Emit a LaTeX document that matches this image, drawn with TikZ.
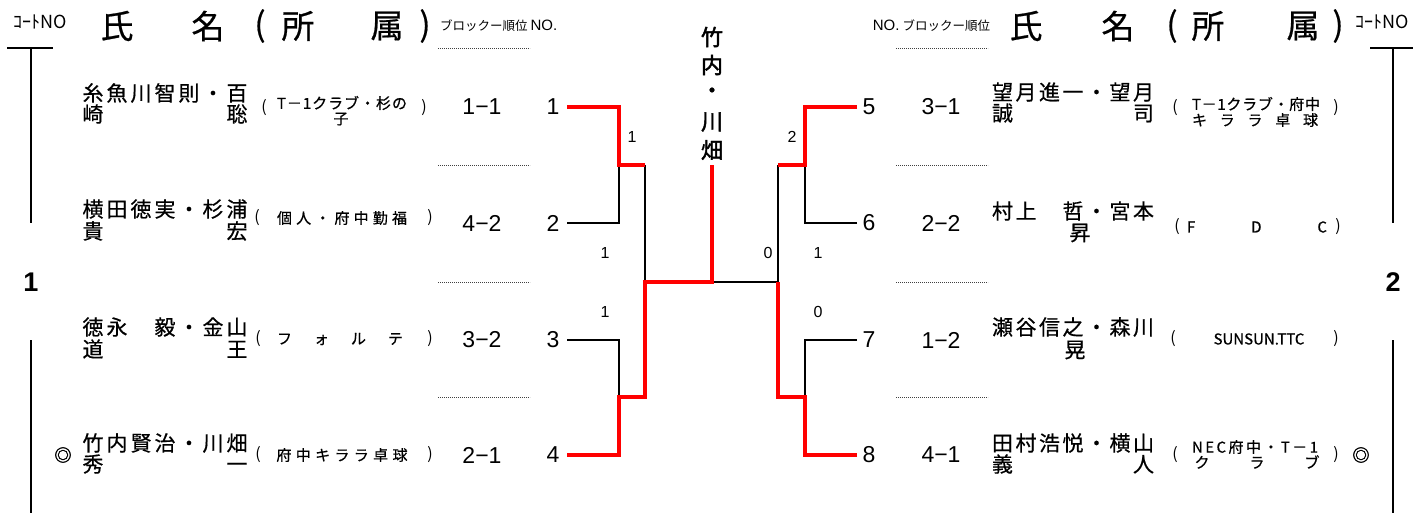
\documentclass[tikz,border=0pt]{standalone}
\usepackage{fontspec}
\setmainfont{Noto Sans CJK JP}
\newfontfamily\jpb{Noto Sans CJK JP}[FakeBold=2]
\newfontfamily\jpm{Noto Sans CJK JP}[FakeBold=0.6]
\newfontfamily\lat{Liberation Sans}
\ExplSyntaxOn
\NewDocumentCommand\Spread{mm}{\hbox~to~#1{\tl_map_inline:nn{#2}{##1\hfil}\unskip}}
\ExplSyntaxOff
\begin{document}
\begin{tikzpicture}[x=1pt,y=-1pt,
  every node/.style={inner sep=0pt, outer sep=0pt},
  big/.style={font=\jpm\fontsize{33}{33}\selectfont},
  cno/.style={font=\fontsize{18}{18}\selectfont},
  nm/.style={font=\jpm\fontsize{21}{21}\selectfont},
  af/.style={font=\jpm\fontsize{15}{15}\selectfont},
  par/.style={font=\fontsize{16}{16}\selectfont},
  rk/.style={font=\lat\fontsize{23}{23}\selectfont},
  sc/.style={font=\lat\fontsize{16}{16}\selectfont},
  court/.style={font=\lat\bfseries\fontsize{27}{27}\selectfont},
  champ/.style={font=\jpb\fontsize{22}{22}\selectfont},
  mark2/.style={font=\jpb\fontsize{17}{17}\selectfont},
  lose/.style={draw=black, line width=1.2pt},
  win/.style={draw=red, line width=4.5pt, line join=miter},
  dots/.style={draw=black!75, line width=0.8pt, dash pattern=on 0.8pt off 1.2pt},
  rule/.style={draw=black, line width=1.2pt}
]
\useasboundingbox (0,0) rectangle (1413,513);

% ---------- headers ----------
\node[cno] (cnoL) at (40,22) {ｺｰﾄNO};
\node[cno] (cnoR) at (1382,22) {ｺｰﾄNO};
\node[big] (hL1) at (117,26) {氏};
\node[big] (hL2) at (208,26) {名};
\node[big] (hL3) at (260,26) {(};
\node[big] (hL4) at (298,26) {所};
\node[big] (hL5) at (387,26) {属};
\node[big] (hL6) at (425,26) {)};
\node[big] (hR1) at (1026,26) {氏};
\node[big] (hR2) at (1118,26) {名};
\node[big] (hR3) at (1172,26) {(};
\node[big] (hR4) at (1208,26) {所};
\node[big] (hR5) at (1303,26) {属};
\node[big] (hR6) at (1338,26) {)};
\node[anchor=west] (blkL) at (440,26) {{\fontsize{12.5}{12.5}\selectfont ブロックー順位}\hspace{3pt}{\lat\fontsize{15}{15}\selectfont NO.}};
\node[anchor=east] (blkR) at (990,26) {{\lat\fontsize{15}{15}\selectfont NO.}\hspace{3pt}{\fontsize{12.5}{12.5}\selectfont ブロックー順位}};

% dotted separators
\foreach \y in {48,165,282,397}{
  \draw[dots] (438,\y) -- (530,\y);
  \draw[dots] (896,\y) -- (988,\y);
}

% ---------- court columns ----------
\node[court] (c1) at (31,282) {1};
\node[court] (c2) at (1393,282) {2};
\coordinate (tlA) at (7,48);  \coordinate (tlB) at (53,48);
\coordinate (tlT) at (31,48); \coordinate (tlE) at (31,223);
\coordinate (blT) at (31,340); \coordinate (blE) at (31,513);
\coordinate (trA) at (1370,48); \coordinate (trB) at (1413,48);
\coordinate (trT) at (1393,48); \coordinate (trE) at (1393,223);
\coordinate (brT) at (1393,340); \coordinate (brE) at (1393,513);
\draw[rule] (tlA) -- (tlB);
\draw[rule] (tlT) -- (tlE);
\draw[rule] (blT) -- (blE);
\draw[rule] (trA) -- (trB);
\draw[rule] (trT) -- (trE);
\draw[rule] (brT) -- (brE);

% ---------- left entries ----------
% row 1
\node[nm] (nm1a) at (165,93) {\Spread{165pt}{糸魚川智則・百}};
\node[nm] (nm1b) at (165,114) {\Spread{165pt}{崎聡}};
\node[par] (pl1) at (264,108) {(};
\node[par] (pr1) at (424,108) {)};
\node[af] (af1a) at (342,103) {\Spread{130pt}{T－1クラブ・杉の}};
\node[af] (af1b) at (341,119) {子};
\node[rk] (rk1) at (482,107) {1−1};
\node[rk] (n1) at (553,107) {1};
% row 2
\node[nm] (nm2a) at (165,209) {\Spread{165pt}{横田徳実・杉浦}};
\node[nm] (nm2b) at (165,231) {\Spread{165pt}{貴宏}};
\node[par] (pl2) at (257,218) {(};
\node[par] (pr2) at (430,218) {)};
\node[af] (af2) at (342,218) {\Spread{130pt}{個人・府中勤福}};
\node[rk] (rk2) at (482,223) {4−2};
\node[rk] (n2) at (553,223) {2};
% row 3
\node[nm] (nm3a) at (165,327) {\Spread{165pt}{徳永　毅・金山}};
\node[nm] (nm3b) at (165,349) {\Spread{165pt}{道王}};
\node[par] (pl3) at (258,339) {(};
\node[par] (pr3) at (430,339) {)};
\node[af] (af3) at (340,339) {\Spread{126pt}{フォルテ}};
\node[rk] (rk3) at (482,340) {3−2};
\node[rk] (n3) at (553,340) {3};
% row 4
\node[mark2] (mk4) at (63,455) {◎};
\node[nm] (nm4a) at (165,443) {\Spread{165pt}{竹内賢治・川畑}};
\node[nm] (nm4b) at (165,464) {\Spread{165pt}{秀一}};
\node[par] (pl4) at (258,455) {(};
\node[par] (pr4) at (430,455) {)};
\node[af] (af4) at (342,455) {\Spread{131pt}{府中キララ卓球}};
\node[rk] (rk4) at (482,455) {2−1};
\node[rk] (n4) at (553,455) {4};

% ---------- right entries ----------
% row 5
\node[rk] (n5) at (869,107) {5};
\node[rk] (rk5) at (941,107) {3−1};
\node[nm] (nm5a) at (1073,92) {\Spread{162pt}{望月進一・望月}};
\node[nm] (nm5b) at (1073,113) {\Spread{162pt}{誠司}};
\node[par] (pl5) at (1175,108) {(};
\node[par] (pr5) at (1336,108) {)};
\node[af] (af5a) at (1256,104) {\Spread{128pt}{T－1クラブ・府中}};
\node[af] (af5b) at (1255,120) {\Spread{126pt}{キララ卓球}};
% row 6
\node[rk] (n6) at (869,223) {6};
\node[rk] (rk6) at (941,223) {2−2};
\node[nm] (nm6a) at (1073,211) {\Spread{162pt}{村上　哲・宮本}};
\node[nm] (nm6b) at (1080,233) {昇};
\node[par] (pl6) at (1177,227) {(};
\node[par] (pr6) at (1338,227) {)};
\node[af] (af6) at (1257,227) {\Spread{140pt}{FDC}};
% row 7
\node[rk] (n7) at (869,340) {7};
\node[rk] (rk7) at (941,340) {1−2};
\node[nm] (nm7a) at (1073,327) {\Spread{162pt}{瀬谷信之・森川}};
\node[nm] (nm7b) at (1075,350) {晃};
\node[par] (pl7) at (1173,339) {(};
\node[par] (pr7) at (1336,339) {)};
\node[af] (af7) at (1259,339) {SUNSUN.TTC};
% row 8
\node[rk] (n8) at (869,455) {8};
\node[rk] (rk8) at (941,455) {4−1};
\node[nm] (nm8a) at (1073,443) {\Spread{162pt}{田村浩悦・横山}};
\node[nm] (nm8b) at (1073,464) {\Spread{162pt}{義人}};
\node[par] (pl8) at (1175,455) {(};
\node[par] (pr8) at (1336,455) {)};
\node[af] (af8a) at (1255,447) {\Spread{126pt}{NEC府中・T－1}};
\node[af] (af8b) at (1257,462) {\Spread{125pt}{クラブ}};
\node[mark2] (mk8) at (1361,455) {◎};

% ---------- champion ----------
\node[champ] (ch1) at (712,37) {竹};
\node[champ] (ch2) at (712,65) {内};
\node[champ] (ch3) at (712,93) {・};
\node[champ] (ch4) at (712,122) {川};
\node[champ] (ch5) at (712,150) {畑};

% ---------- scores ----------
\node[sc] (s1) at (632,137) {1};
\node[sc] (s2) at (792,137) {2};
\node[sc] (s3) at (605,253) {1};
\node[sc] (s4) at (768,253) {0};
\node[sc] (s5) at (818,253) {1};
\node[sc] (s6) at (605,312) {1};
\node[sc] (s7) at (818,312) {0};

% ---------- bracket ----------
\coordinate (a1) at (567,107); \coordinate (a2) at (567,223);
\coordinate (a3) at (567,340); \coordinate (a4) at (567,455);
\coordinate (j1) at (619,165); \coordinate (j2) at (619,397);
\coordinate (k1) at (645,165); \coordinate (k2) at (645,397);
\coordinate (f1) at (645,282); \coordinate (fc) at (712,282);
\coordinate (ctop) at (712,165);
\coordinate (a5) at (857,107); \coordinate (a6) at (857,223);
\coordinate (a7) at (857,340); \coordinate (a8) at (857,455);
\coordinate (jr1) at (805,165); \coordinate (jr2) at (805,397);
\coordinate (kr1) at (778,165); \coordinate (kr2) at (778,397);
\coordinate (fr) at (778,282);

% losers (black)
\draw[lose] (a2) -| (j1);
\draw[lose] (a3) -| (j2);
\draw[lose] (k1) -- (f1);
\draw[lose] (fc) -- (fr);
\draw[lose] (a6) -| (jr1);
\draw[lose] (a7) -| (jr2);
\draw[lose] (kr1) -- (fr);
% winners (red)
\draw[win] (a1) -| (j1) -- (k1);
\draw[win] (a4) -| (j2) -- (k2) -- (f1) -- (fc) -- (ctop);
\draw[win] (a5) -| (jr1) -- (kr1);
\draw[win] (a8) -| (jr2) -- (kr2) -- (fr);
\end{tikzpicture}
\end{document}
